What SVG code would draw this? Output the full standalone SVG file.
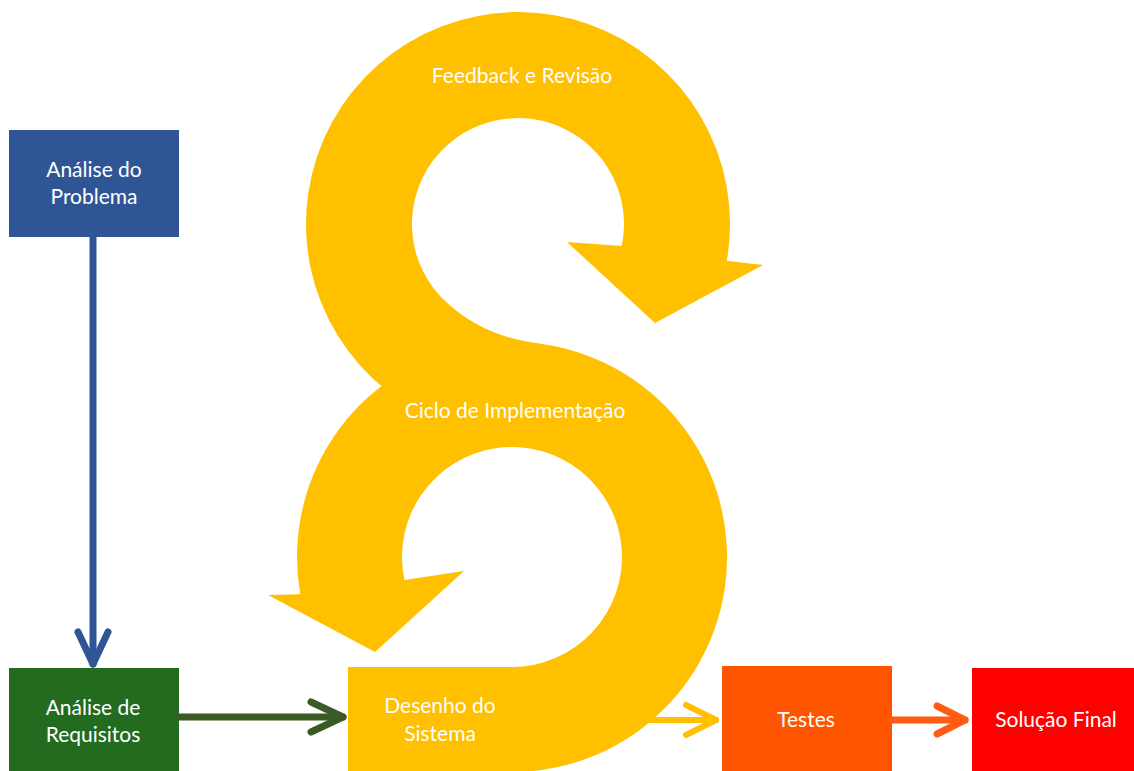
<svg xmlns="http://www.w3.org/2000/svg" width="1134" height="771" viewBox="0 0 1134 771">
<style>
.lbl{font-family:Lato,"Open Sans","Liberation Sans",sans-serif;font-size:21px;fill:#ffffff;text-anchor:middle}
.cyc{fill:#FFC000}
.con{fill:none;stroke-linecap:round}
</style>
<defs>
<marker id="mBlue" viewBox="0 0 40 40" markerWidth="40" markerHeight="40" refX="36" refY="20" orient="auto" markerUnits="userSpaceOnUse"><path d="M4,5 L36,20 L4,35" fill="none" stroke="#2F5597" stroke-width="7" stroke-linecap="round" stroke-linejoin="round"/></marker>
<marker id="mGreen" viewBox="0 0 40 40" markerWidth="40" markerHeight="40" refX="36" refY="20" orient="auto" markerUnits="userSpaceOnUse"><path d="M4,5 L36,20 L4,35" fill="none" stroke="#3A5A26" stroke-width="7" stroke-linecap="round" stroke-linejoin="round"/></marker>
<marker id="mYellow" viewBox="0 0 40 40" markerWidth="40" markerHeight="40" refX="36" refY="20" orient="auto" markerUnits="userSpaceOnUse"><path d="M6,5 L36,20 L6,35" fill="none" stroke="#FFC000" stroke-width="6" stroke-linecap="round" stroke-linejoin="round"/></marker>
<marker id="mOrange" viewBox="0 0 40 40" markerWidth="40" markerHeight="40" refX="36" refY="20" orient="auto" markerUnits="userSpaceOnUse"><path d="M8,6 L36,20 L8,34" fill="none" stroke="#FF5B14" stroke-width="7" stroke-linecap="round" stroke-linejoin="round"/></marker>
</defs>
<rect width="1134" height="771" fill="#ffffff"/>

<g id="cycle-implementacao">
<path class="cyc" d="M512,772 A215,215 0 1 0 300.3,594.3 L268,595 L375,652 L464,571 L404.4,579.9 A110,110 0 1 1 512,667 Z"/>
<text class="lbl" x="515" y="418">Ciclo de Implementação</text>
</g>

<g id="cycle-feedback">
<path class="cyc" d="M387.5,391.1 A212,212 0 1 1 726.8,260.8 L763,265 L655,323 L567,242 L621.7,246 A106,106 0 1 0 443,299 C473,329 510,340 540,343.8 L560,380 Z"/>
<text class="lbl" x="522" y="83">Feedback e Revisão</text>
</g>

<g id="n-desenho">
<rect class="cyc" x="348" y="667" width="170" height="104"/>
<text class="lbl" x="440" y="713">Desenho do</text>
<text class="lbl" x="440" y="741">Sistema</text>
</g>

<g id="n-problema">
<rect x="9" y="130" width="170" height="107" fill="#2F5597"/>
<text class="lbl" x="94" y="177">Análise do</text>
<text class="lbl" x="94" y="204">Problema</text>
</g>

<g id="n-requisitos">
<rect x="9" y="668" width="170" height="103" fill="#226B1F"/>
<text class="lbl" x="93" y="715">Análise de</text>
<text class="lbl" x="93" y="742">Requisitos</text>
</g>

<g id="n-testes">
<rect x="722" y="666" width="170" height="105" fill="#FF5500"/>
<text class="lbl" x="806" y="727">Testes</text>
</g>

<g id="n-solucao">
<rect x="972" y="668" width="162" height="103" fill="#FF0000"/>
<text class="lbl" x="1056" y="727">Solução Final</text>
</g>

<g id="connectors">
<line class="con" x1="93" y1="237" x2="93" y2="664" stroke="#2F5597" stroke-width="7" stroke-linecap="butt" marker-end="url(#mBlue)"/>
<line class="con" x1="179" y1="717" x2="343" y2="717" stroke="#3A5A26" stroke-width="7" stroke-linecap="butt" marker-end="url(#mGreen)"/>
<line class="con" x1="640" y1="720" x2="716" y2="720" stroke="#FFC000" stroke-width="6" stroke-linecap="butt" marker-end="url(#mYellow)"/>
<line class="con" x1="892" y1="720" x2="965" y2="720" stroke="#FF5B14" stroke-width="7" stroke-linecap="butt" marker-end="url(#mOrange)"/>
</g>
</svg>
